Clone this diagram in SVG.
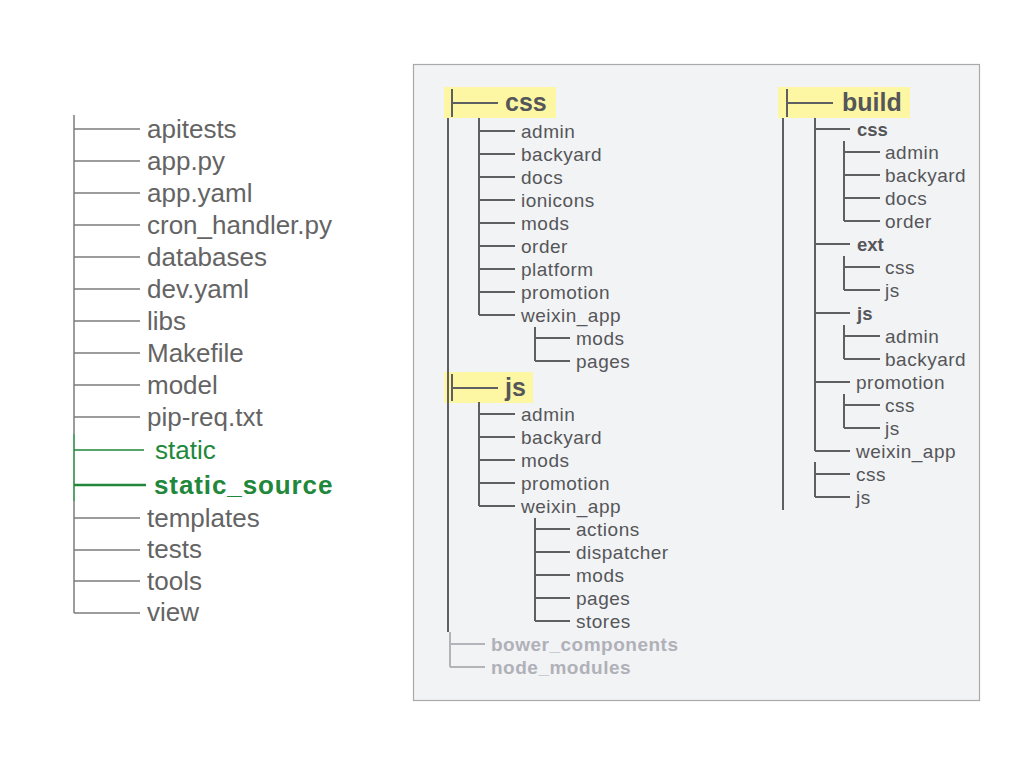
<svg xmlns="http://www.w3.org/2000/svg" width="1024" height="768" viewBox="0 0 1024 768">
<style>
.bg{fill:#ffffff}
.panel{fill:#f2f3f5;stroke:#a9a9a9;stroke-width:1.2}
.hl{fill:#fdf6a2}
.lt{fill:none;stroke:#7c7c7c;stroke-width:1.5}
.gr{fill:none;stroke:#21873a;stroke-width:1.5}
.grb{fill:none;stroke:#21873a;stroke-width:2.5}
.rt{fill:none;stroke:#5e5f62;stroke-width:2}
.rtg{fill:none;stroke:#b3b4ba;stroke-width:2}
.big{font-family:"Liberation Sans",Arial,sans-serif;font-size:26px;fill:#646464}
.green{fill:#21873a}
.gbold{font-weight:bold;letter-spacing:0.9px}
.t{font-family:"Liberation Sans",Arial,sans-serif;font-size:19px;fill:#555659;letter-spacing:0.5px}
.tb{font-family:"Liberation Sans",Arial,sans-serif;font-size:18.5px;font-weight:bold;fill:#555659}
.h{font-family:"Liberation Sans",Arial,sans-serif;font-size:25px;font-weight:bold;fill:#555659}
.faint{font-family:"Liberation Sans",Arial,sans-serif;font-size:19px;font-weight:bold;fill:#b0b1b8;letter-spacing:0.5px}
</style>
<rect class="bg" x="0" y="0" width="1024" height="768"/>
<rect id="panel" class="panel" x="413.5" y="64.5" width="566" height="636"/>
<rect class="hl" x="444" y="87" width="112" height="31"/>
<rect class="hl" x="444" y="372" width="89" height="31"/>
<rect class="hl" x="778" y="87" width="132" height="31"/>

<g id="connectors">
<path class="lt" d="M74 115V434M74 501V613M74 129H140M74 161H140M74 193H140M74 225H140M74 257H140M74 289H140M74 321H140M74 353H140M74 385H140M74 417H140M74 518H140M74 550H140M74 581H140M74 613H140"/>
<path class="gr" d="M74 434V501M74 450H144"/>
<path class="grb" d="M74 485H146"/>

<path class="rt" d="M448 118V632M452 89V117M452 103H498M479 118V315M479 131H515M479 154H515M479 177H515M479 200H515M479 223H515M479 246H515M479 269H515M479 292H515M479 315H515M535 327V361M535 338H570M535 361H570"/>
<path class="rt" d="M452 374V401M452 388H498M479 402V506M479 414H515M479 437H515M479 460H515M479 483H515M479 506H515M535 518V621M535 529H570M535 552H570M535 575H570M535 598H570M535 621H570"/>
<path class="rtg" d="M450 632V667M450 644H485M450 667H485"/>

<path class="rt" d="M787 89V117M787 103H833M783 118V510M815 118V451M815 462V497M815 129H850M815 244H850M815 313H850M815 382H850M815 451H850M815 474H850M815 497H850"/>
<path class="rt" d="M844 141V221M844 152H880M844 175H880M844 198H880M844 221H880M844 256V290M844 267H880M844 290H880M844 325V359M844 336H880M844 359H880M844 394V428M844 405H880M844 428H880"/>
</g>

<g id="root-list">
<g id="n-apitests"><text class="big" x="147" y="137.5">apitests</text></g>
<g id="n-app-py"><text class="big" x="147" y="169.5">app.py</text></g>
<g id="n-app-yaml"><text class="big" x="147" y="201.5">app.yaml</text></g>
<g id="n-cron"><text class="big" x="147" y="233.5">cron_handler.py</text></g>
<g id="n-databases"><text class="big" x="147" y="265.5">databases</text></g>
<g id="n-dev-yaml"><text class="big" x="147" y="297.5">dev.yaml</text></g>
<g id="n-libs"><text class="big" x="147" y="329.5">libs</text></g>
<g id="n-makefile"><text class="big" x="147" y="361.5">Makefile</text></g>
<g id="n-model"><text class="big" x="147" y="393.5">model</text></g>
<g id="n-pipreq"><text class="big" x="147" y="425.5">pip-req.txt</text></g>
<g id="n-static"><text class="big green" x="155" y="458.5">static</text></g>
<g id="n-static-source"><text class="big green gbold" x="154" y="493.5">static_source</text></g>
<g id="n-templates"><text class="big" x="147" y="526.5">templates</text></g>
<g id="n-tests"><text class="big" x="147" y="558">tests</text></g>
<g id="n-tools"><text class="big" x="147" y="589.5">tools</text></g>
<g id="n-view"><text class="big" x="147" y="621">view</text></g>
</g>

<g id="css-tree">
<g id="n-css"><text class="h" x="505" y="111">css</text></g>
<g id="n-css-admin"><text class="t" x="521" y="137.5">admin</text></g>
<g id="n-css-backyard"><text class="t" x="521" y="160.5">backyard</text></g>
<g id="n-css-docs"><text class="t" x="521" y="183.5">docs</text></g>
<g id="n-css-ionicons"><text class="t" x="521" y="206.5">ionicons</text></g>
<g id="n-css-mods"><text class="t" x="521" y="229.5">mods</text></g>
<g id="n-css-order"><text class="t" x="521" y="252.5">order</text></g>
<g id="n-css-platform"><text class="t" x="521" y="275.5">platform</text></g>
<g id="n-css-promotion"><text class="t" x="521" y="298.5">promotion</text></g>
<g id="n-css-weixin"><text class="t" x="521" y="321.5">weixin_app</text></g>
<g id="n-css-weixin-mods"><text class="t" x="576" y="344.5">mods</text></g>
<g id="n-css-weixin-pages"><text class="t" x="576" y="367.5">pages</text></g>
</g>

<g id="js-tree">
<g id="n-js"><text class="h" x="505" y="396">js</text></g>
<g id="n-js-admin"><text class="t" x="521" y="420.5">admin</text></g>
<g id="n-js-backyard"><text class="t" x="521" y="443.5">backyard</text></g>
<g id="n-js-mods"><text class="t" x="521" y="466.5">mods</text></g>
<g id="n-js-promotion"><text class="t" x="521" y="489.5">promotion</text></g>
<g id="n-js-weixin"><text class="t" x="521" y="512.5">weixin_app</text></g>
<g id="n-js-actions"><text class="t" x="576" y="535.5">actions</text></g>
<g id="n-js-dispatcher"><text class="t" x="576" y="558.5">dispatcher</text></g>
<g id="n-js-wmods"><text class="t" x="576" y="581.5">mods</text></g>
<g id="n-js-pages"><text class="t" x="576" y="604.5">pages</text></g>
<g id="n-js-stores"><text class="t" x="576" y="627.5">stores</text></g>
<g id="n-bower"><text class="faint" x="491" y="650.5">bower_components</text></g>
<g id="n-node-modules"><text class="faint" x="491" y="673.5">node_modules</text></g>
</g>

<g id="build-tree">
<g id="n-build"><text class="h" x="842" y="111">build</text></g>
<g id="n-b-css"><text class="tb" x="857" y="135.5">css</text></g>
<g id="n-b-css-admin"><text class="t" x="885" y="158.5">admin</text></g>
<g id="n-b-css-backyard"><text class="t" x="885" y="181.5">backyard</text></g>
<g id="n-b-css-docs"><text class="t" x="885" y="204.5">docs</text></g>
<g id="n-b-css-order"><text class="t" x="885" y="227.5">order</text></g>
<g id="n-b-ext"><text class="tb" x="857" y="250.5">ext</text></g>
<g id="n-b-ext-css"><text class="t" x="885" y="273.5">css</text></g>
<g id="n-b-ext-js"><text class="t" x="885" y="296.5">js</text></g>
<g id="n-b-js"><text class="tb" x="857" y="319.5">js</text></g>
<g id="n-b-js-admin"><text class="t" x="885" y="342.5">admin</text></g>
<g id="n-b-js-backyard"><text class="t" x="885" y="365.5">backyard</text></g>
<g id="n-b-promotion"><text class="t" x="856" y="388.5">promotion</text></g>
<g id="n-b-promo-css"><text class="t" x="885" y="411.5">css</text></g>
<g id="n-b-promo-js"><text class="t" x="885" y="434.5">js</text></g>
<g id="n-b-weixin"><text class="t" x="856" y="457.5">weixin_app</text></g>
<g id="n-b-css2"><text class="t" x="856" y="480.5">css</text></g>
<g id="n-b-js2"><text class="t" x="856" y="503.5">js</text></g>
</g>
</svg>
